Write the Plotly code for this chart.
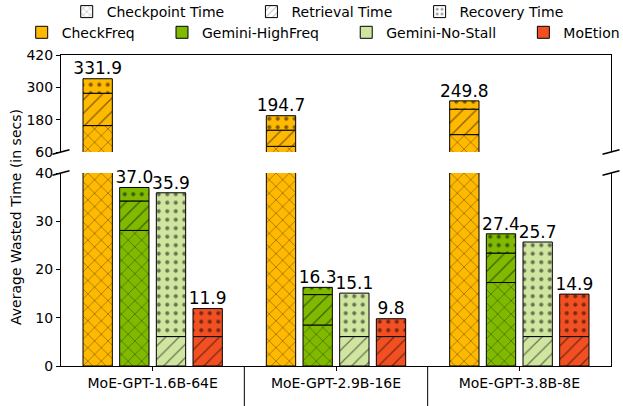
import plotly.graph_objects as go

# ---------------- data ----------------
categories = ["MoE-GPT-1.6B-64E", "MoE-GPT-2.9B-16E", "MoE-GPT-3.8B-8E"]
methods = ["CheckFreq", "Gemini-HighFreq", "Gemini-No-Stall", "MoEtion"]
components = ["Checkpoint Time", "Retrieval Time", "Recovery Time"]

checkfreq_total = [331.9, 194.7, 249.8]
checkfreq_checkpoint = [158.0, 81.0, 124.5]
checkfreq_retrieval = [120.0, 60.0, 94.5]

highfreq_total = [37.0, 16.3, 27.4]
highfreq_checkpoint = [28.1, 8.5, 17.3]
highfreq_retrieval = [6.1, 6.3, 6.1]

nostall_total = [35.9, 15.1, 25.7]
nostall_checkpoint = [0.0, 0.0, 0.0]
nostall_retrieval = [6.1, 6.1, 6.1]

moetion_total = [11.9, 9.8, 14.9]
moetion_checkpoint = [0.0, 0.0, 0.0]
moetion_retrieval = [6.1, 6.1, 6.1]

y_top_ticks = [60, 180, 300, 420]
y_bottom_ticks = [0, 10, 20, 30, 40]

# ---------------- style ----------------
FONT = "DejaVu Sans"
colors = ["#FFB900", "#7FBA00", "#D0E6A0", "#F25022"]
shapes_pat = ["x", "/", "."]
pat_size = [9.5, 9.5, 8.5]
pat_solid = [0.13, 0.13, 0.18]
NBSP = "\u00a0" * 5

series = [
    (checkfreq_total, checkfreq_checkpoint, checkfreq_retrieval),
    (highfreq_total, highfreq_checkpoint, highfreq_retrieval),
    (nostall_total, nostall_checkpoint, nostall_retrieval),
    (moetion_total, moetion_checkpoint, moetion_retrieval),
]

fig = go.Figure()

# legend-only entries (row 1: hatches, row 2: methods)
for k, comp in enumerate(components):
    fig.add_trace(go.Bar(
        x=[None], y=[None], name=comp + (NBSP if k < 2 else ""),
        marker=dict(color="white", line=dict(color="black", width=1),
                    pattern=dict(shape=shapes_pat[k], fgcolor="black", bgcolor="white",
                                 size=6, solidity=0.15 if k < 2 else 0.2)),
        legend="legend", showlegend=True, hoverinfo="skip"))
for j, m in enumerate(methods):
    fig.add_trace(go.Bar(
        x=[None], y=[None], name=m + (NBSP if j < 3 else ""),
        marker=dict(color=colors[j], line=dict(color="black", width=1)),
        legend="legend2", showlegend=True, hoverinfo="skip"))

bar_w = 0.16
n_m = len(methods)
for j, (total, ckpt, retr) in enumerate(series):
    xs = [i + (j - (n_m - 1) / 2) * 0.2 for i in range(len(categories))]
    recov = [round(t - c - r, 3) for t, c, r in zip(total, ckpt, retr)]
    segs = [ckpt, retr, recov]
    axes = ["y", "y2"] if j == 0 else ["y"]
    for ya in axes:
        base = [0.0] * len(categories)
        for k, seg in enumerate(segs):
            yv = [v if v > 0 else None for v in seg]
            fig.add_trace(go.Bar(
                x=xs, y=yv, base=base[:], width=bar_w,
                xaxis="x" if ya == "y" else "x2", yaxis=ya,
                marker=dict(color=colors[j], line=dict(color="black", width=1),
                            pattern=dict(shape=shapes_pat[k], fgcolor="black",
                                         bgcolor=colors[j], size=pat_size[k],
                                         solidity=pat_solid[k])),
                showlegend=False, hoverinfo="skip"))
            base = [b + v for b, v in zip(base, seg)]
    fig.add_trace(go.Scatter(
        x=xs, y=total, mode="text", text=[f"{v:.1f}" for v in total],
        textposition="top center", textfont=dict(family=FONT, size=17, color="black"),
        xaxis="x" if j > 0 else "x2", yaxis="y" if j > 0 else "y2",
        cliponaxis=False, showlegend=False, hoverinfo="skip"))

W, H = 623, 406
L, T = 61, 55
R = W - 611
B = H - 366
pw = W - L - R
ph = H - T - B
bot_top = (366 - 173) / ph
top_bot = (366 - 152) / ph


def px_x(px):
    return (px - L) / pw


def px_y(py):
    return 1 - (py - T) / ph


axis_common = dict(showgrid=False, zeroline=False, linecolor="black", linewidth=1,
                   tickfont=dict(family=FONT, size=14, color="black"),
                   ticks="outside", ticklen=4, tickwidth=1, tickcolor="black")

legend_common = dict(orientation="h", xref="paper", yref="paper", xanchor="left",
                     yanchor="top", font=dict(family=FONT, size=14, color="black"),
                     bgcolor="rgba(0,0,0,0)", itemclick=False, itemdoubleclick=False)

fig.update_layout(
    width=W, height=H, margin=dict(l=L, r=R, t=T, b=B, autoexpand=False),
    paper_bgcolor="white", plot_bgcolor="white",
    barmode="overlay", font=dict(family=FONT, size=14, color="black"),
    xaxis=dict(axis_common, range=[-0.5, 2.5], tickvals=list(range(len(categories))),
               ticktext=categories, showline=True, anchor="y"),
    xaxis2=dict(axis_common, range=[-0.5, 2.5], showline=True, side="top",
                showticklabels=False, ticks="", anchor="y2", matches="x"),
    yaxis=dict(axis_common, range=[0, 40], tickvals=y_bottom_ticks, domain=[0, bot_top],
               showline=True, mirror=True, anchor="x"),
    yaxis2=dict(axis_common, range=[60, 420], tickvals=y_top_ticks, domain=[top_bot, 1],
                showline=True, mirror=True, anchor="x2"),
    legend=dict(legend_common, x=px_x(66.7), y=px_y(-4.0)),
    legend2=dict(legend_common, x=px_x(21.7), y=px_y(16.7)),
)

# broken-axis marks
dx, dy = 8.5 / pw, 2.3 / ph
for xc in (0, 1):
    for yc in (top_bot, bot_top):
        fig.add_shape(type="line", xref="paper", yref="paper",
                      x0=xc - dx, x1=xc + dx, y0=yc - dy, y1=yc + dy,
                      line=dict(color="black", width=1.5))

# group separators below the x axis
for i in range(len(categories) - 1):
    fig.add_shape(type="line", xref="x", yref="paper", x0=i + 0.5, x1=i + 0.5,
                  y0=0, y1=-0.14, line=dict(color="black", width=1))

fig.add_annotation(text="Average Wasted Time (in secs)", textangle=-90,
                   xref="paper", yref="paper", x=px_x(15.5), y=px_y(217.5),
                   xanchor="center", yanchor="middle", showarrow=False,
                   font=dict(family=FONT, size=14, color="black"))

# remove the browser's default 8px page margin so the figure fills the window
fig.write_html("out.html", config={"displayModeBar": False},
               post_script="document.body.style.margin='0';")
